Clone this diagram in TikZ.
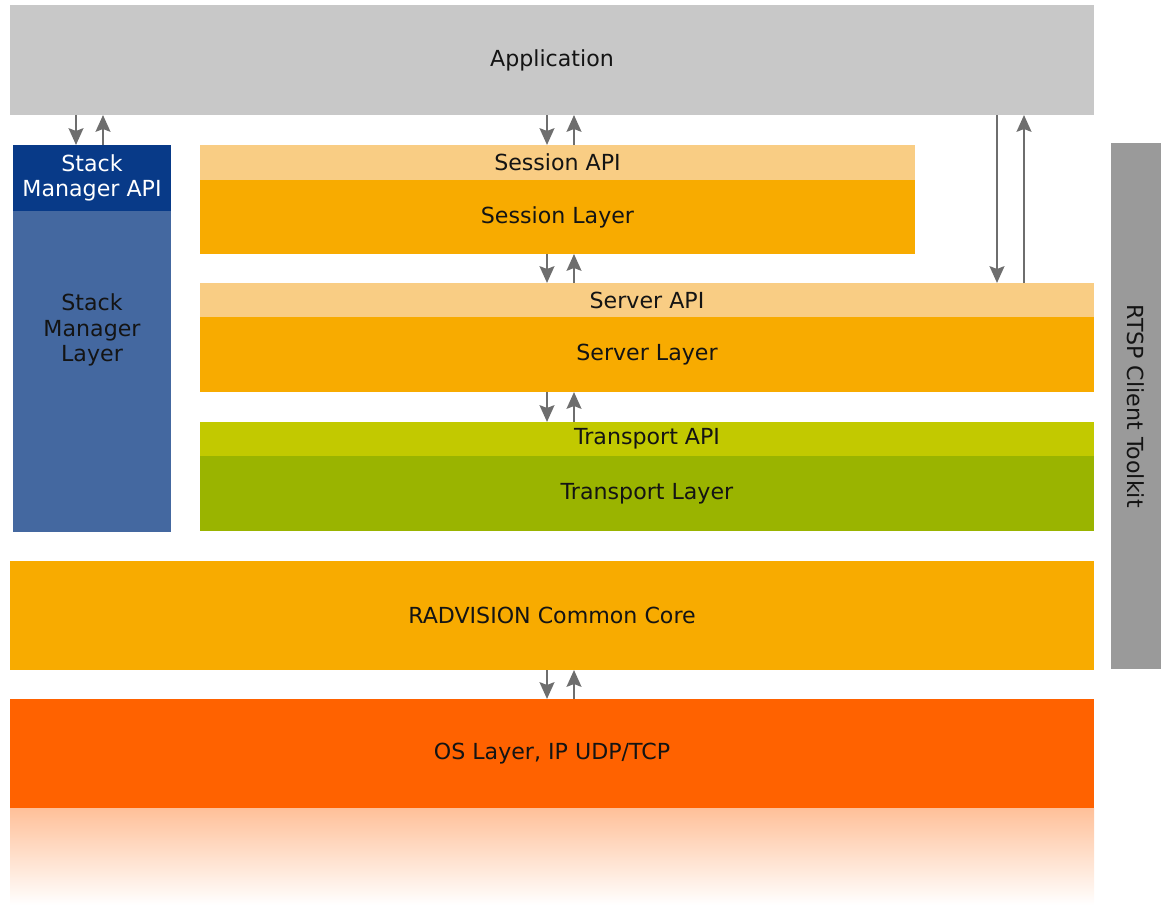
\documentclass[tikz,border=0pt]{standalone}
\usepackage{fontspec}
\setmainfont{DejaVu Sans}
\usetikzlibrary{arrows.meta,positioning}
\usepackage{xcolor}
\definecolor{appgray}{HTML}{C8C8C8}
\definecolor{navy}{HTML}{083A88}
\definecolor{smblue}{HTML}{4468A0}
\definecolor{apiorange}{HTML}{F9CD84}
\definecolor{orange}{HTML}{F8AB00}
\definecolor{apigreen}{HTML}{C2C900}
\definecolor{green}{HTML}{9AB400}
\definecolor{osorange}{HTML}{FF6200}
\definecolor{barGray}{HTML}{9A9A9A}
\definecolor{arrowgray}{HTML}{6E6E6E}
\definecolor{ink}{HTML}{141414}
\newcommand{\pxu}{0.75pt}
\tikzset{
  base/.style={inner sep=0pt,outer sep=0pt,draw=none,text=ink,align=center,anchor=north west,
    font=\fontsize{16.6}{19}\selectfont},
  appbox/.style={base,fill=appgray},
  smapibox/.style={base,fill=navy,text=white},
  smbox/.style={base,fill=smblue},
  apibox/.style={base,fill=apiorange},
  layerbox/.style={base,fill=orange},
  tapibox/.style={base,fill=apigreen},
  tlayerbox/.style={base,fill=green},
  osbox/.style={base,fill=osorange},
  toolbar/.style={base,fill=barGray},
  flow/.style={-{Stealth[length=12.5pt,width=11pt,inset=2pt]},line width=2.2pt,draw=arrowgray}
}

\begin{document}
\begin{tikzpicture}[x=0.75pt,y=-0.75pt]
\useasboundingbox (0,0) rectangle (1161,905);
% top
\node[appbox,minimum width=1084*\pxu,minimum height=110*\pxu] (app) at (10,5) {Application};
% stack manager column
\node[smapibox,minimum width=158*\pxu,minimum height=66*\pxu] (smapi) at (13,145) {Stack\\Manager API};
\node[smbox,minimum width=158*\pxu,minimum height=321*\pxu,below=0pt of smapi.south west,anchor=north west] (smlayer) {};
\node[base,anchor=center] (smtext) at (smlayer.north |- 0,330) {Stack\\Manager\\Layer};
% session
\node[apibox,minimum width=715*\pxu,minimum height=35*\pxu] (sessapi) at (200,145) {Session API};
\node[layerbox,minimum width=715*\pxu,minimum height=74*\pxu,below=0pt of sessapi.south west,anchor=north west] (sesslayer) {Session Layer};
% server
\node[apibox,minimum width=894*\pxu,minimum height=34*\pxu] (servapi) at (200,283) {Server API};
\node[layerbox,minimum width=894*\pxu,minimum height=75*\pxu,below=0pt of servapi.south west,anchor=north west] (servlayer) {Server Layer};
% transport
\node[tapibox,minimum width=894*\pxu,minimum height=34*\pxu] (transapi) at (200,422) {Transport API};
\node[tlayerbox,minimum width=894*\pxu,minimum height=75*\pxu,below=0pt of transapi.south west,anchor=north west] (translayer) {Transport Layer};
% core and os
\node[layerbox,minimum width=1084*\pxu,minimum height=109*\pxu] (core) at (10,561) {RADVISION Common Core};
\node[osbox,minimum width=1084*\pxu,minimum height=109*\pxu] (os) at (10,699) {OS Layer, IP UDP/TCP};
\shade[top color=osorange!40,middle color=osorange!13,bottom color=white] (os.south west) rectangle (1094,905);
% side bar
\node[toolbar,minimum width=50*\pxu,minimum height=526*\pxu] (toolkit) at (1111,143) {};
\node[base,anchor=center,rotate=-90] (tooltext) at (toolkit.center) {RTSP Client Toolkit};
% arrows
\foreach \a/\b/\x in {app/smapi/76, app/sessapi/547, sesslayer/servapi/547, servlayer/transapi/547, core/os/547, app/servapi/997}{
  \draw[flow] (\x,0 |- \a.south) -- (\x,0 |- \b.north);
  \draw[flow] (\x+27,0 |- \b.north) -- (\x+27,0 |- \a.south);
}
\end{tikzpicture}
\end{document}
